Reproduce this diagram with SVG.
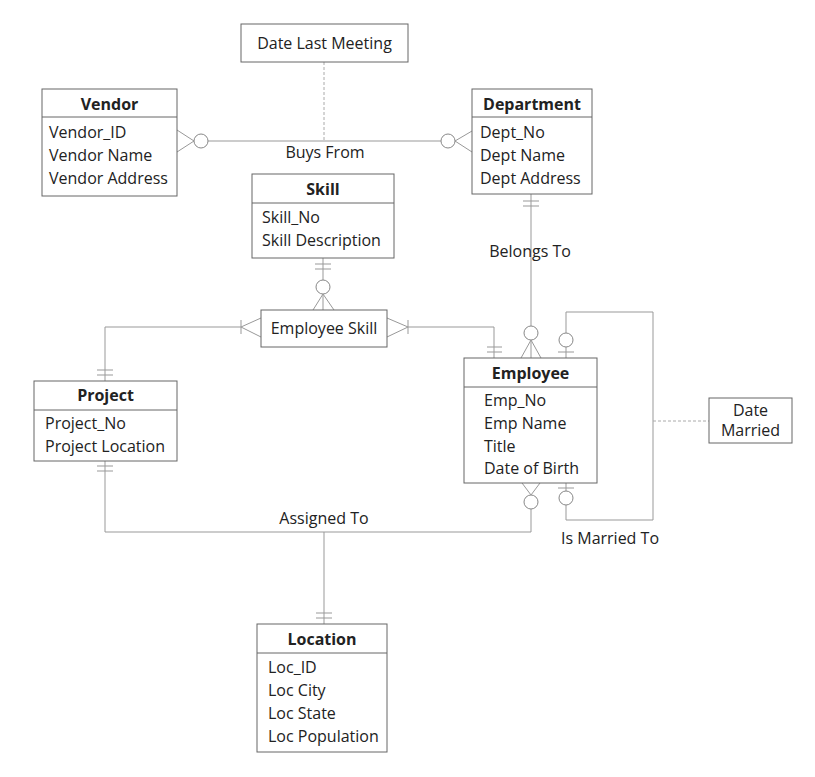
<svg xmlns="http://www.w3.org/2000/svg" width="815" height="777" viewBox="0 0 815 777">
<style>
text{font-family:"Open Sans","Liberation Sans",sans-serif;font-size:16px;fill:#222}
.t{font-weight:bold;text-anchor:middle}
.c{text-anchor:middle}
.box{fill:#fff;stroke:#666;stroke-width:1}
.ln{fill:none;stroke:#999;stroke-width:1}
.dash{fill:none;stroke:#aaa;stroke-width:1;stroke-dasharray:3,2}
.o{fill:#fff;stroke:#888;stroke-width:1}
</style>
<rect width="815" height="777" fill="#fff"/>
<g id="connectors">
  <!-- Buys From -->
  <line class="ln" x1="208" y1="141" x2="441" y2="141"/>
  <line class="ln" x1="177" y1="130" x2="194" y2="141"/>
  <line class="ln" x1="177" y1="152" x2="194" y2="141"/>
  <circle class="o" cx="201" cy="141" r="7"/>
  <line class="ln" x1="472" y1="131" x2="455" y2="141"/>
  <line class="ln" x1="472" y1="152" x2="455" y2="141"/>
  <circle class="o" cx="448" cy="141" r="7"/>
  <line class="dash" x1="324" y1="62" x2="324" y2="141"/>
  <text class="c" x="325" y="158">Buys From</text>
  <!-- Belongs To -->
  <line class="ln" x1="531" y1="194" x2="531" y2="326"/>
  <line class="ln" x1="523" y1="201" x2="539" y2="201"/>
  <line class="ln" x1="523" y1="206" x2="539" y2="206"/>
  <circle class="o" cx="531" cy="333" r="7"/>
  <line class="ln" x1="531" y1="340" x2="521" y2="358"/>
  <line class="ln" x1="531" y1="340" x2="531" y2="358"/>
  <line class="ln" x1="531" y1="340" x2="541" y2="358"/>
  <text class="c" x="530" y="257">Belongs To</text>
  <!-- Skill to Employee Skill -->
  <line class="ln" x1="323" y1="258" x2="323" y2="280"/>
  <line class="ln" x1="315" y1="264" x2="331" y2="264"/>
  <line class="ln" x1="315" y1="269" x2="331" y2="269"/>
  <circle class="o" cx="323" cy="287" r="7"/>
  <line class="ln" x1="323" y1="294" x2="313" y2="310"/>
  <line class="ln" x1="323" y1="294" x2="323" y2="310"/>
  <line class="ln" x1="323" y1="294" x2="334" y2="310"/>
  <!-- Employee Skill to Project -->
  <polyline class="ln" points="241,327 105,327 105,381"/>
  <line class="ln" x1="261" y1="318" x2="241" y2="327"/>
  <line class="ln" x1="261" y1="337" x2="241" y2="327"/>
  <line class="ln" x1="241" y1="320" x2="241" y2="334"/>
  <line class="ln" x1="97" y1="370" x2="113" y2="370"/>
  <line class="ln" x1="97" y1="375" x2="113" y2="375"/>
  <!-- Employee Skill to Employee -->
  <polyline class="ln" points="408,327 494,327 494,358"/>
  <line class="ln" x1="387" y1="318" x2="408" y2="327"/>
  <line class="ln" x1="387" y1="337" x2="408" y2="327"/>
  <line class="ln" x1="408" y1="320" x2="408" y2="334"/>
  <line class="ln" x1="487" y1="347" x2="502" y2="347"/>
  <line class="ln" x1="487" y1="352" x2="502" y2="352"/>
  <!-- Is Married To -->
  <polyline class="ln" points="566,333 566,312 653,312 653,520 566,520 566,505"/>
  <line class="ln" x1="566" y1="347" x2="566" y2="358"/>
  <circle class="o" cx="566" cy="340" r="7"/>
  <line class="ln" x1="558" y1="352" x2="574" y2="352"/>
  <line class="ln" x1="566" y1="483" x2="566" y2="491"/>
  <circle class="o" cx="566" cy="498" r="7"/>
  <line class="ln" x1="558" y1="488" x2="574" y2="488"/>
  <line class="dash" x1="653" y1="421" x2="709" y2="421"/>
  <text class="c" x="610" y="544">Is Married To</text>
  <!-- Assigned To -->
  <polyline class="ln" points="105,461 105,532 531,532 531,509"/>
  <line class="ln" x1="97" y1="466" x2="113" y2="466"/>
  <line class="ln" x1="97" y1="471" x2="113" y2="471"/>
  <circle class="o" cx="531" cy="502" r="7"/>
  <line class="ln" x1="531" y1="495" x2="522" y2="483"/>
  <line class="ln" x1="531" y1="495" x2="540" y2="483"/>
  <line class="ln" x1="324" y1="532" x2="324" y2="624"/>
  <line class="ln" x1="316" y1="613" x2="332" y2="613"/>
  <line class="ln" x1="316" y1="618" x2="332" y2="618"/>
  <text class="c" x="324" y="524">Assigned To</text>
</g>
<g id="date-last-meeting">
  <rect class="box" x="241" y="24" width="167" height="38"/>
  <text class="c" x="324.5" y="49">Date Last Meeting</text>
</g>
<g id="vendor">
  <rect class="box" x="42" y="89" width="135" height="107"/>
  <line class="box" x1="42" y1="117" x2="177" y2="117"/>
  <text class="t" x="109.5" y="110">Vendor</text>
  <text x="49" y="138">Vendor_ID</text>
  <text x="49" y="161">Vendor Name</text>
  <text x="49" y="184">Vendor Address</text>
</g>
<g id="department">
  <rect class="box" x="472" y="89" width="120" height="105"/>
  <line class="box" x1="472" y1="117" x2="592" y2="117"/>
  <text class="t" x="532" y="110">Department</text>
  <text x="480" y="138">Dept_No</text>
  <text x="480" y="161">Dept Name</text>
  <text x="480" y="184">Dept Address</text>
</g>
<g id="skill">
  <rect class="box" x="252" y="174" width="142" height="84"/>
  <line class="box" x1="252" y1="203" x2="394" y2="203"/>
  <text class="t" x="323" y="195">Skill</text>
  <text x="262" y="223">Skill_No</text>
  <text x="262" y="246">Skill Description</text>
</g>
<g id="employee-skill">
  <rect class="box" x="261" y="310" width="126" height="37"/>
  <text class="c" x="324" y="334">Employee Skill</text>
</g>
<g id="project">
  <rect class="box" x="34" y="381" width="143" height="80"/>
  <line class="box" x1="34" y1="410" x2="177" y2="410"/>
  <text class="t" x="105.5" y="401">Project</text>
  <text x="45" y="429">Project_No</text>
  <text x="45" y="452">Project Location</text>
</g>
<g id="employee">
  <rect class="box" x="464" y="358" width="133" height="125"/>
  <line class="box" x1="464" y1="387" x2="597" y2="387"/>
  <text class="t" x="530.5" y="379">Employee</text>
  <text x="484" y="406">Emp_No</text>
  <text x="484" y="429">Emp Name</text>
  <text x="484" y="452">Title</text>
  <text x="484" y="474">Date of Birth</text>
</g>
<g id="date-married">
  <rect class="box" x="709" y="398" width="83" height="45"/>
  <text class="c" x="750.5" y="416">Date</text>
  <text class="c" x="750.5" y="436">Married</text>
</g>
<g id="location">
  <rect class="box" x="257" y="624" width="130" height="128"/>
  <line class="box" x1="257" y1="653" x2="387" y2="653"/>
  <text class="t" x="322" y="645">Location</text>
  <text x="268" y="673">Loc_ID</text>
  <text x="268" y="696">Loc City</text>
  <text x="268" y="719">Loc State</text>
  <text x="268" y="742">Loc Population</text>
</g>
</svg>
